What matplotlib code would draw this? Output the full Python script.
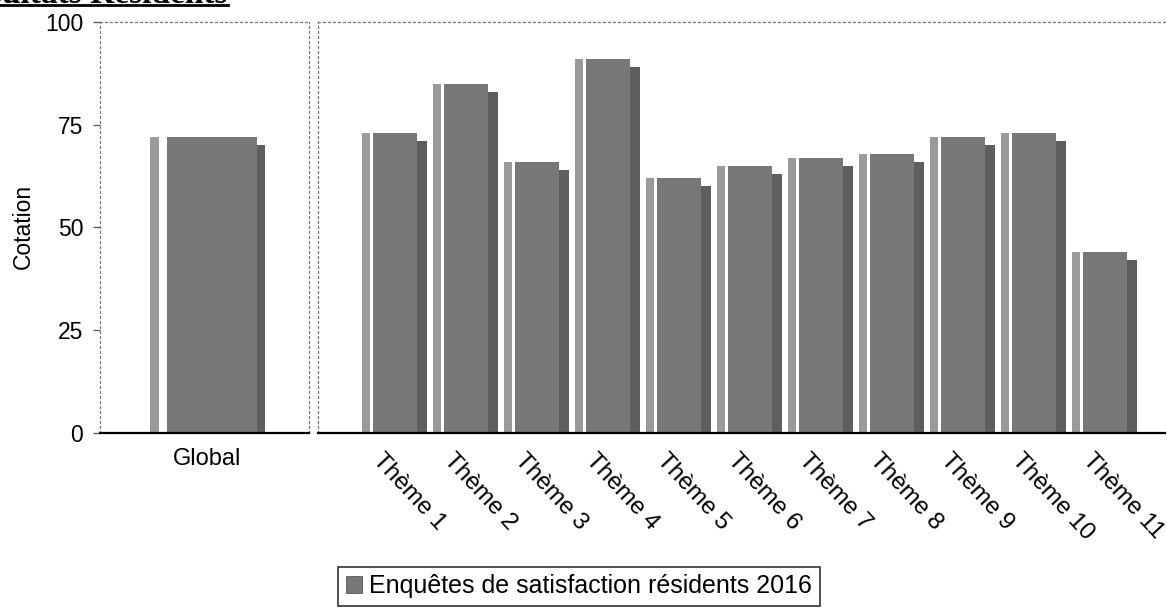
import matplotlib
matplotlib.use("Agg")
import matplotlib.pyplot as plt
import numpy as np
from matplotlib.patches import Patch
from matplotlib.lines import Line2D
from matplotlib.transforms import ScaledTranslation

plt.rcParams['font.family'] = ['Liberation Sans', 'DejaVu Sans']

# ---- data ----
global_label = ["Global"]
global_value = [72]
theme_labels = ["Thème 1", "Thème 2", "Thème 3", "Thème 4", "Thème 5", "Thème 6",
                "Thème 7", "Thème 8", "Thème 9", "Thème 10", "Thème 11"]
theme_values = [73, 85, 66, 91, 62, 65, 67, 68, 72, 73, 44]
y_ticks = [0, 25, 50, 75, 100]
series_name = "Enquêtes de satisfaction résidents 2016"
ylabel = "Cotation"
header = "Résultats Résidents"

# ---- style ----
W, H, DPI = 1167, 610, 100
c_stripe = "#9a9a9a"
c_main = "#777777"
c_shadow = "#5e5e5e"
drop = 2.0  # shadow top lower than main top

fig = plt.figure(figsize=(W / DPI, H / DPI), dpi=DPI)

def fx(px):
    return px / W

def fy(py):
    return 1 - py / H

ax_bottom = fy(433)
ax_top = fy(22)
axL = fig.add_axes([fx(100), ax_bottom, fx(309) - fx(100), ax_top - ax_bottom])
axR = fig.add_axes([fx(318), ax_bottom, fx(1165) - fx(318), ax_top - ax_bottom])


def draw_3d_bars(ax, x, vals, total, f_stripe, f_gap, f_shadow):
    x = np.asarray(x, dtype=float)
    vals = np.asarray(vals, dtype=float)
    left = x - total / 2
    sw = total * f_stripe
    gw = total * f_gap
    shw = total * f_shadow
    mw = total - sw - gw - shw
    ax.bar(left, vals, width=sw, align='edge', color=c_stripe, linewidth=0)
    ax.bar(left + sw + gw, vals, width=mw, align='edge', color=c_main, linewidth=0)
    ax.bar(left + sw + gw + mw, vals - drop, width=shw, align='edge', color=c_shadow, linewidth=0)


# left panel (Global)
xg = np.arange(len(global_value))
draw_3d_bars(axL, xg, global_value, 1.62, 9 / 115, 8 / 115, 8 / 115)
axL.set_xlim(-107.5 / 71, 101.5 / 71)

# right panel (themes)
xt = np.arange(len(theme_values))
draw_3d_bars(axR, xt, theme_values, 0.915, 8 / 65, 3 / 65, 10 / 65)
axR.set_xlim(-1.077, 10.85)

for ax in (axL, axR):
    ax.set_ylim(0, 100)
    for side in ("top", "left", "right"):
        ax.spines[side].set_linestyle((0, (1.5, 2.5)))
        ax.spines[side].set_color("#777777")
        ax.spines[side].set_linewidth(0.9)
    ax.spines["bottom"].set_color("black")
    ax.spines["bottom"].set_linewidth(1.6)

axR.spines["right"].set_visible(False)
axR.set_yticks([])

axL.set_yticks(y_ticks)
axL.set_yticklabels([str(v) for v in y_ticks], fontsize=16.5)
axL.tick_params(axis='y', length=5, width=0.9, color="#555555", pad=7)
axL.set_xticks(xg)
axL.set_xticklabels(global_label, fontsize=17)
axL.tick_params(axis='x', length=0, pad=11)

axR.set_xticks(xt)
axR.set_xticklabels(theme_labels, fontsize=17.5, rotation=-47,
                    ha='left', va='top', rotation_mode='anchor')
axR.tick_params(axis='x', length=0, pad=12)
offset = ScaledTranslation(-10 / DPI, 0, fig.dpi_scale_trans)
for lab in axR.get_xticklabels():
    lab.set_transform(lab.get_transform() + offset)

fig.text(fx(23), fy(226), ylabel, rotation=90, ha='center', va='center', fontsize=16.5)

# legend
handle = Patch(facecolor=c_main, edgecolor="#444444", linewidth=0.5)
leg = fig.legend([handle], [series_name], loc='lower left',
                 bbox_to_anchor=(fx(338), fy(606)), fontsize=18,
                 frameon=True, fancybox=False, borderaxespad=0,
                 handlelength=0.65, handleheight=0.65, handletextpad=0.3,
                 borderpad=0.3)
leg.get_frame().set_edgecolor("black")
leg.get_frame().set_linewidth(1.2)

# cut-off header at the top
fig.text(fx(228), fy(3), header, ha='right', va='baseline', fontsize=24,
         fontweight='bold', family=['Liberation Serif', 'DejaVu Serif'])
fig.add_artist(Line2D([0, fx(228)], [fy(5), fy(5)], color='black', linewidth=2,
                      transform=fig.transFigure))

fig.savefig("out.png", dpi=DPI)
